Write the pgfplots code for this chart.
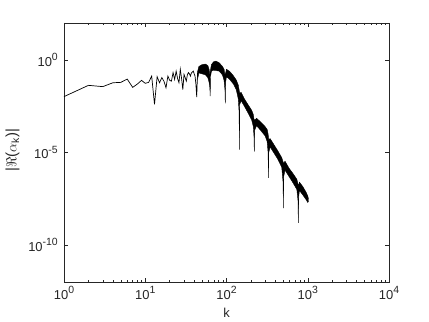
\documentclass[border=0pt]{standalone}
\usepackage{fontspec}
\setmainfont{Liberation Sans}
\usepackage{pgfplots}
\pgfplotsset{compat=1.18}
\definecolor{axgray}{RGB}{38,38,38}
\newcommand{\sups}[1]{\raisebox{0.45em}{\fontsize{10.5}{10.5}\selectfont #1}}

\begin{document}
\begin{tikzpicture}
\useasboundingbox (-64bp,-40bp) rectangle (365bp,282bp);
\begin{axis}[
    at={(0,0)}, anchor=south west,
    scale only axis,
    width=325bp, height=259bp,
    xmode=log, ymode=log,
    xmin=1, xmax=1e4,
    ymin=1e-12, ymax=1e2,
    xtick={1,10,100,1000,10000},
    xticklabels={10\sups{0},10\sups{1},10\sups{2},10\sups{3},10\sups{4}},
    ytick={1e-10,1e-5,1},
    yticklabels={10\sups{-10},10\sups{-5},10\sups{0}},
    yminorticks=false,
    tick align=inside, tick pos=both,
    major tick length=4bp, minor tick length=2bp,
    axis line style={axgray, line width=0.5bp},
    every tick/.style={axgray, line width=0.5bp},
    ticklabel style={font=\fontsize{13}{15}\selectfont, text=axgray, inner sep=0pt},
    xticklabel style={yshift=-4bp},
    yticklabel style={xshift=-6bp},
    xlabel={k},
    ylabel={|$\Re$($\alpha$\textsubscript{k})|},
    label style={text=axgray, inner sep=0pt},
    xlabel style={font=\fontsize{13}{15}\selectfont, at={(axis description cs:0.5,-0.12)}, anchor=center},
    ylabel style={font=\fontsize{15}{17}\selectfont, at={(axis description cs:-0.158,0.51)}, anchor=center},
]
% low modes: single jagged line
\addplot[black, line width=0.7bp] coordinates {
    (1,1.05e-2) (2,4.27e-2) (3,3.63e-2) (4,5.89e-2) (5,6.17e-2)
    (6,9.33e-2) (7,3.31e-2) (8,5.01e-2) (9,7.94e-2) (10,5.50e-2)
    (11,6.17e-2) (12,0.135) (13,3.98e-3) (14,0.126) (15,0.059)
    (16,0.112) (17,0.071) (18,0.0316) (19,0.135) (20,0.079)
    (21,0.072) (22,0.209) (23,0.089) (24,0.251) (25,0.1)
    (26,0.059) (27,0.316) (28,0.1) (29,0.025) (30,0.166)
    (31,0.112) (32,0.072) (33,0.158) (34,0.209) (35,0.178)
    (36,0.135) (37,0.2) (38,0.224) (39,0.251) (40,0.178)
    (41,0.135) (42,0.05) (43,0.01) (44,0.2)
};
% dense oscillating band: upper edge left to right, then lower edge back
\addplot[black, fill=black, line width=0.4bp] coordinates {
    (44.2,0.251) (45.7,0.447) (50.1,0.562) (55.0,0.603) (58.9,0.501) (61.0,0.316) (62.4,0.158)
    (63.5,0.282) (65.3,0.562) (69.2,0.794) (74.1,0.871) (81.3,0.708) (89.1,0.447) (93.3,0.316) (95.7,0.158)
    (97.5,0.200) (100,0.316) (109.6,0.240) (121.6,0.141) (131.8,0.0832) (139.6,0.0447) (142.9,0.0251)
    (145.5,0.0158) (151.4,0.0178) (166.0,7.94e-3) (186.2,3.55e-3) (204.2,1.91e-3) (213.8,1.12e-3) (217.8,6.31e-4)
    (221.8,5.62e-4) (234.4,7.08e-4) (263.0,4.47e-4) (298.5,2.51e-4) (316.2,1.78e-4) (325.1,1.00e-4)
    (331.1,5.01e-5) (344.4,5.62e-5) (380.2,2.82e-5) (426.6,1.26e-5) (478.6,5.25e-6) (496.6,3.16e-6)
    (505.8,2.51e-6) (524.8,3.39e-6) (588.8,1.41e-6) (660.7,7.08e-7) (734.5,3.55e-7) (758.6,2.00e-7)
    (772.7,1.58e-7) (790.7,2.51e-7) (871.0,1.41e-7) (955.0,7.08e-8) (1000,4.47e-8) (1021,3.16e-8)
    (1021,2.24e-8) (1000,2e-8) (955.0,2.82e-8) (871.0,5.01e-8) (790.7,8.91e-8) (772.7,3.98e-8)
    (765.6,1.58e-9) (758.6,2.51e-8) (734.5,1e-7) (660.7,2.24e-7) (588.8,5.01e-7) (524.8,1.12e-6) (505.8,5.01e-7)
    (501.2,1e-8) (496.6,2.51e-7) (478.6,1.58e-6) (426.6,4.47e-6) (380.2,1e-5) (344.4,2e-5) (331.1,1e-5)
    (328.1,4.27e-7) (325.1,1e-5) (316.2,3.98e-5) (298.5,7.94e-5) (263.0,1.58e-4) (234.4,2.82e-4) (221.8,1.58e-4)
    (219.8,1.12e-5) (217.8,7.94e-5) (213.8,2.51e-4) (204.2,5.62e-4) (186.2,1.26e-3) (166.0,3.16e-3) (151.4,6.31e-3) (145.5,3.98e-3)
    (144.2,1.41e-5) (142.9,1.58e-3) (139.6,7.94e-3) (131.8,0.0251) (121.6,0.0501) (109.6,0.0891) (100,0.126) (97.5,0.0631)
    (96.6,4.47e-3) (95.7,0.0251) (93.3,0.0794) (89.1,0.158) (81.3,0.251) (69.2,0.282) (65.3,0.251) (63.5,0.126)
    (63.0,0.0112) (62.4,0.0316) (61.0,0.0631) (58.9,0.112) (55.0,0.158) (50.1,0.178) (45.7,0.2) (44.2,0.1)
} -- cycle;
\end{axis}
\end{tikzpicture}
\end{document}
